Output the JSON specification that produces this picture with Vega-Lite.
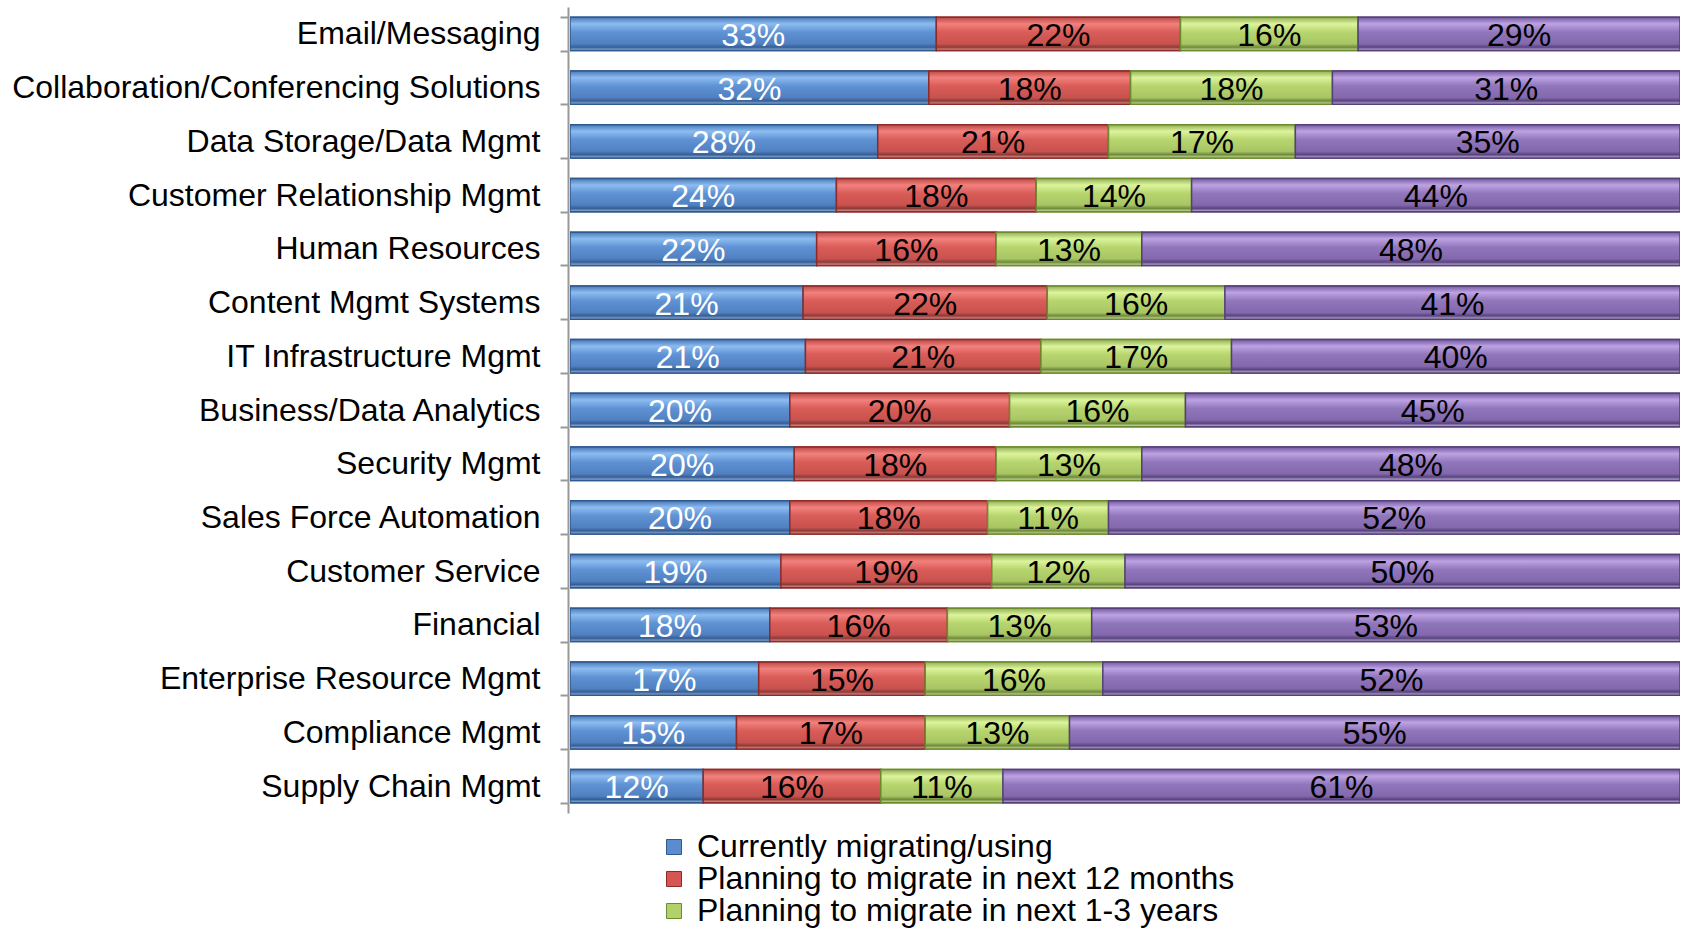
{
  "$schema": "https://vega.github.io/schema/vega-lite/v6.json",
  "width": 1110,
  "height": 806,
  "autosize": {"type": "none"},
  "padding": {"left": 570, "top": 7, "right": 3, "bottom": 117},
  "background": "white",
  "config": {
    "view": {"stroke": null},
    "font": "Liberation Sans"
  },
  "data": {
    "values": [
      {"app": "Email/Messaging", "s": "Currently migrating/using", "k": 1, "v": 0.33},
      {"app": "Email/Messaging", "s": "Planning to migrate in next 12 months", "k": 2, "v": 0.22},
      {"app": "Email/Messaging", "s": "Planning to migrate in next 1-3 years", "k": 3, "v": 0.16},
      {"app": "Email/Messaging", "s": "No plans to migrate", "k": 4, "v": 0.29},
      {"app": "Collaboration/Conferencing Solutions", "s": "Currently migrating/using", "k": 1, "v": 0.32},
      {"app": "Collaboration/Conferencing Solutions", "s": "Planning to migrate in next 12 months", "k": 2, "v": 0.18},
      {"app": "Collaboration/Conferencing Solutions", "s": "Planning to migrate in next 1-3 years", "k": 3, "v": 0.18},
      {"app": "Collaboration/Conferencing Solutions", "s": "No plans to migrate", "k": 4, "v": 0.31},
      {"app": "Data Storage/Data Mgmt", "s": "Currently migrating/using", "k": 1, "v": 0.28},
      {"app": "Data Storage/Data Mgmt", "s": "Planning to migrate in next 12 months", "k": 2, "v": 0.21},
      {"app": "Data Storage/Data Mgmt", "s": "Planning to migrate in next 1-3 years", "k": 3, "v": 0.17},
      {"app": "Data Storage/Data Mgmt", "s": "No plans to migrate", "k": 4, "v": 0.35},
      {"app": "Customer Relationship Mgmt", "s": "Currently migrating/using", "k": 1, "v": 0.24},
      {"app": "Customer Relationship Mgmt", "s": "Planning to migrate in next 12 months", "k": 2, "v": 0.18},
      {"app": "Customer Relationship Mgmt", "s": "Planning to migrate in next 1-3 years", "k": 3, "v": 0.14},
      {"app": "Customer Relationship Mgmt", "s": "No plans to migrate", "k": 4, "v": 0.44},
      {"app": "Human Resources", "s": "Currently migrating/using", "k": 1, "v": 0.22},
      {"app": "Human Resources", "s": "Planning to migrate in next 12 months", "k": 2, "v": 0.16},
      {"app": "Human Resources", "s": "Planning to migrate in next 1-3 years", "k": 3, "v": 0.13},
      {"app": "Human Resources", "s": "No plans to migrate", "k": 4, "v": 0.48},
      {"app": "Content Mgmt Systems", "s": "Currently migrating/using", "k": 1, "v": 0.21},
      {"app": "Content Mgmt Systems", "s": "Planning to migrate in next 12 months", "k": 2, "v": 0.22},
      {"app": "Content Mgmt Systems", "s": "Planning to migrate in next 1-3 years", "k": 3, "v": 0.16},
      {"app": "Content Mgmt Systems", "s": "No plans to migrate", "k": 4, "v": 0.41},
      {"app": "IT Infrastructure Mgmt", "s": "Currently migrating/using", "k": 1, "v": 0.21},
      {"app": "IT Infrastructure Mgmt", "s": "Planning to migrate in next 12 months", "k": 2, "v": 0.21},
      {"app": "IT Infrastructure Mgmt", "s": "Planning to migrate in next 1-3 years", "k": 3, "v": 0.17},
      {"app": "IT Infrastructure Mgmt", "s": "No plans to migrate", "k": 4, "v": 0.40},
      {"app": "Business/Data Analytics", "s": "Currently migrating/using", "k": 1, "v": 0.20},
      {"app": "Business/Data Analytics", "s": "Planning to migrate in next 12 months", "k": 2, "v": 0.20},
      {"app": "Business/Data Analytics", "s": "Planning to migrate in next 1-3 years", "k": 3, "v": 0.16},
      {"app": "Business/Data Analytics", "s": "No plans to migrate", "k": 4, "v": 0.45},
      {"app": "Security Mgmt", "s": "Currently migrating/using", "k": 1, "v": 0.20},
      {"app": "Security Mgmt", "s": "Planning to migrate in next 12 months", "k": 2, "v": 0.18},
      {"app": "Security Mgmt", "s": "Planning to migrate in next 1-3 years", "k": 3, "v": 0.13},
      {"app": "Security Mgmt", "s": "No plans to migrate", "k": 4, "v": 0.48},
      {"app": "Sales Force Automation", "s": "Currently migrating/using", "k": 1, "v": 0.20},
      {"app": "Sales Force Automation", "s": "Planning to migrate in next 12 months", "k": 2, "v": 0.18},
      {"app": "Sales Force Automation", "s": "Planning to migrate in next 1-3 years", "k": 3, "v": 0.11},
      {"app": "Sales Force Automation", "s": "No plans to migrate", "k": 4, "v": 0.52},
      {"app": "Customer Service", "s": "Currently migrating/using", "k": 1, "v": 0.19},
      {"app": "Customer Service", "s": "Planning to migrate in next 12 months", "k": 2, "v": 0.19},
      {"app": "Customer Service", "s": "Planning to migrate in next 1-3 years", "k": 3, "v": 0.12},
      {"app": "Customer Service", "s": "No plans to migrate", "k": 4, "v": 0.50},
      {"app": "Financial", "s": "Currently migrating/using", "k": 1, "v": 0.18},
      {"app": "Financial", "s": "Planning to migrate in next 12 months", "k": 2, "v": 0.16},
      {"app": "Financial", "s": "Planning to migrate in next 1-3 years", "k": 3, "v": 0.13},
      {"app": "Financial", "s": "No plans to migrate", "k": 4, "v": 0.53},
      {"app": "Enterprise Resource Mgmt", "s": "Currently migrating/using", "k": 1, "v": 0.17},
      {"app": "Enterprise Resource Mgmt", "s": "Planning to migrate in next 12 months", "k": 2, "v": 0.15},
      {"app": "Enterprise Resource Mgmt", "s": "Planning to migrate in next 1-3 years", "k": 3, "v": 0.16},
      {"app": "Enterprise Resource Mgmt", "s": "No plans to migrate", "k": 4, "v": 0.52},
      {"app": "Compliance Mgmt", "s": "Currently migrating/using", "k": 1, "v": 0.15},
      {"app": "Compliance Mgmt", "s": "Planning to migrate in next 12 months", "k": 2, "v": 0.17},
      {"app": "Compliance Mgmt", "s": "Planning to migrate in next 1-3 years", "k": 3, "v": 0.13},
      {"app": "Compliance Mgmt", "s": "No plans to migrate", "k": 4, "v": 0.55},
      {"app": "Supply Chain Mgmt", "s": "Currently migrating/using", "k": 1, "v": 0.12},
      {"app": "Supply Chain Mgmt", "s": "Planning to migrate in next 12 months", "k": 2, "v": 0.16},
      {"app": "Supply Chain Mgmt", "s": "Planning to migrate in next 1-3 years", "k": 3, "v": 0.11},
      {"app": "Supply Chain Mgmt", "s": "No plans to migrate", "k": 4, "v": 0.61}
    ]
  },
  "transform": [
    {"stack": "v", "groupby": ["app"], "sort": [{"field": "k", "order": "ascending"}], "offset": "normalize", "as": ["x0", "x1"]},
    {"calculate": "(datum.x0 + datum.x1) / 2", "as": "xm"}
  ],
  "encoding": {
    "y": {
      "field": "app",
      "type": "nominal",
      "sort": null,
      "title": null,
      "scale": {"paddingInner": 0.38, "paddingOuter": 0.19},
      "axis": {
        "offset": 2,
        "domainColor": "#999999",
        "domainWidth": 2,
        "tickColor": "#999999",
        "tickWidth": 2,
        "tickSize": 8,
        "tickBand": "extent",
        "labelPadding": 20,
        "labelFontSize": 32,
        "labelColor": "#000000",
        "labelFont": "Liberation Sans",
        "labelLimit": 600
      }
    }
  },
  "layer": [
    {
      "mark": {"type": "bar", "strokeWidth": 1.5, "clip": true},
      "encoding": {
        "x": {
          "field": "x0",
          "type": "quantitative",
          "scale": {"domain": [0, 1], "nice": false, "zero": true},
          "axis": null
        },
        "x2": {"field": "x1"},
        "fill": {
          "field": "s",
          "type": "nominal",
          "scale": {
            "domain": ["Currently migrating/using", "Planning to migrate in next 12 months", "Planning to migrate in next 1-3 years", "No plans to migrate"],
            "range": ["#5a8ccf", "#d55753", "#b2d16a", "#8b6eb5"]
          },
          "legend": {
            "title": null,
            "values": ["Currently migrating/using", "Planning to migrate in next 12 months", "Planning to migrate in next 1-3 years"],
            "orient": "none",
            "legendX": 88,
            "legendY": 824,
            "direction": "vertical",
            "symbolType": "square",
            "symbolSize": 225,
            "symbolStrokeWidth": 1,
            "symbolStrokeColor": "#333333",
            "labelFontSize": 32,
            "labelFont": "Liberation Sans",
            "labelColor": "#000000",
            "labelOffset": 7,
            "labelLimit": 800,
            "rowPadding": 0,
            "padding": 0
          }
        },
        "stroke": {
          "field": "s",
          "type": "nominal",
          "scale": {
            "domain": ["Currently migrating/using", "Planning to migrate in next 12 months", "Planning to migrate in next 1-3 years", "No plans to migrate"],
            "range": ["#2f5a8f", "#8e2b28", "#6c8a2e", "#55407a"]
          },
          "legend": null
        }
      }
    },
    {
      "mark": {"type": "bar", "strokeWidth": 1.5, "clip": true},
      "encoding": {
        "x": {"field": "x0", "type": "quantitative"},
        "x2": {"field": "x1"},
        "fill": {
          "condition": [
            {"test": "datum.k === 1", "value": {"gradient": "linear", "x1": 0, "y1": 0, "x2": 0, "y2": 1, "stops": [
              {"offset": 0, "color": "#4a78b8"},
              {"offset": 0.2, "color": "#8cbcf0"},
              {"offset": 0.45, "color": "#5f92d4"},
              {"offset": 0.8, "color": "#5080c0"},
              {"offset": 0.9, "color": "#365e96"},
              {"offset": 1, "color": "#9fbbe0"}]}},
            {"test": "datum.k === 2", "value": {"gradient": "linear", "x1": 0, "y1": 0, "x2": 0, "y2": 1, "stops": [
              {"offset": 0, "color": "#bb4a47"},
              {"offset": 0.2, "color": "#f2817d"},
              {"offset": 0.45, "color": "#d95c58"},
              {"offset": 0.8, "color": "#c9524e"},
              {"offset": 0.9, "color": "#8e3a37"},
              {"offset": 1, "color": "#e6a3a0"}]}},
            {"test": "datum.k === 3", "value": {"gradient": "linear", "x1": 0, "y1": 0, "x2": 0, "y2": 1, "stops": [
              {"offset": 0, "color": "#92ae55"},
              {"offset": 0.2, "color": "#dcf49c"},
              {"offset": 0.45, "color": "#b7d56e"},
              {"offset": 0.8, "color": "#a8c564"},
              {"offset": 0.9, "color": "#6f8a38"},
              {"offset": 1, "color": "#d6e6b0"}]}}
          ],
          "value": {"gradient": "linear", "x1": 0, "y1": 0, "x2": 0, "y2": 1, "stops": [
            {"offset": 0, "color": "#735aa0"},
            {"offset": 0.2, "color": "#bda3e3"},
            {"offset": 0.45, "color": "#9076bb"},
            {"offset": 0.8, "color": "#8468ae"},
            {"offset": 0.9, "color": "#58447e"},
            {"offset": 1, "color": "#cbbde0"}]}
        },
        "stroke": {
          "condition": [
            {"test": "datum.k === 1", "value": "#2f5a8f"},
            {"test": "datum.k === 2", "value": "#8e2b28"},
            {"test": "datum.k === 3", "value": "#6c8a2e"}
          ],
          "value": "#55407a"
        }
      }
    },
    {
      "mark": {"type": "text", "fontSize": 32, "font": "Liberation Sans", "baseline": "middle", "align": "center", "dy": 2, "clip": true},
      "encoding": {
        "x": {"field": "xm", "type": "quantitative"},
        "text": {"field": "v", "type": "quantitative", "format": ".0%"},
        "color": {
          "condition": {"test": "datum.k === 1", "value": "#ffffff"},
          "value": "#000000"
        }
      }
    }
  ]
}
